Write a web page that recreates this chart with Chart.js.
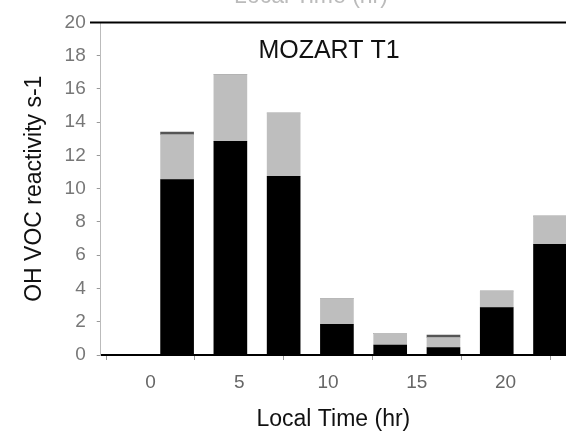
<!DOCTYPE html>
<html>
<head>
<meta charset="utf-8">
<script src="https://cdn.jsdelivr.net/npm/chart.js@4.4.1/dist/chart.umd.min.js"></script>
<style>
  html, body { margin:0; padding:0; background:#fff; }
  #wrap { width:566px; height:431px; position:relative; overflow:hidden; }
</style>
</head>
<body>
<div id="wrap"><canvas id="chart"></canvas></div>
<script>
'use strict';

// --- Data: 3-hourly OH reactivity, stacked contributions ---
const hours    = [1.5, 4.5, 7.5, 10.5, 13.5, 16.5, 19.5, 22.5];
const baseVals = [10.55, 12.85, 10.75, 1.85, 0.6, 0.45, 2.85, 6.65];
const midVals  = [2.7, 4.0, 3.8, 1.55, 0.7, 0.6, 1.0, 1.7];
const topVals  = [0.15, 0, 0, 0, 0, 0.15, 0, 0];
const xTicks   = [0, 5, 10, 15, 20];
const yTicks   = [0, 2, 4, 6, 8, 10, 12, 14, 16, 18, 20];

const panelTitle = 'MOZART T1';
const xTitle = 'Local Time (hr)';
const yTitle = 'OH VOC reactivity s-1';
const FONT = "'Liberation Sans', Arial, sans-serif";

function pts(vals){ return hours.map((h,i)=> ({ x:h, y:vals[i] })); }

// frame line on top, panel title, and the clipped axis label of the panel above
const decor = {
  id: 'decor',
  afterDraw(chart){
    const { ctx, chartArea:a } = chart;
    ctx.save();
    ctx.strokeStyle = '#000';
    ctx.lineWidth = 2;
    ctx.beginPath();
    ctx.moveTo(90, a.top); ctx.lineTo(chart.width, a.top);
    ctx.stroke();

    ctx.fillStyle = '#111';
    ctx.font = '25px ' + FONT;
    ctx.textAlign = 'center';
    ctx.textBaseline = 'alphabetic';
    ctx.fillText(panelTitle, 329, a.top + 36);

    ctx.fillStyle = '#bbb';
    ctx.font = '23px ' + FONT;
    ctx.fillText(xTitle, 311, 3);
    ctx.restore();
  }
};

new Chart(document.getElementById('chart'), {
  type: 'bar',
  data: {
    datasets: [
      { data: pts(baseVals), backgroundColor: '#000' },
      { data: pts(midVals),  backgroundColor: '#bebebe' },
      { data: pts(topVals),  backgroundColor: '#555' }
    ]
  },
  options: {
    responsive: true,
    maintainAspectRatio: false,
    animation: false,
    barThickness: 33,
    layout: { padding: { top: 22, right: 0, bottom: 0, left: 0 } },
    plugins: { legend: { display:false }, tooltip: { enabled:false } },
    scales: {
      x: {
        type: 'linear', stacked: true, offset: false,
        min: -2.8, max: 23.4,
        afterBuildTicks: s => { s.ticks = xTicks.map(v => ({ value:v })); },
        grid: { display:true, drawOnChartArea:false, tickLength:5, color:'#999' },
        border: { color:'#000', width:2 },
        ticks: { color:'#666', font:{ family:FONT, size:19 }, padding:11.6, maxRotation:0 },
        title: { display:true, text:xTitle, color:'#111', font:{ family:FONT, size:23, lineHeight:1 }, padding:{ top:2, bottom:0 } }
      },
      y: {
        stacked: true, min: 0, max: 20,
        afterBuildTicks: s => { s.ticks = yTicks.map(v => ({ value:v })); },
        grid: { display:true, drawOnChartArea:false, tickLength:4, color:'#999' },
        border: { color:'#bbb', width:1 },
        ticks: { color:'#777', font:{ family:FONT, size:19 }, padding:11 },
        title: { display:true, text:yTitle, color:'#111', font:{ family:FONT, size:23 }, padding:{ top:21, bottom:5 } }
      }
    }
  },
  plugins: [decor]
});
</script>
</body>
</html>
